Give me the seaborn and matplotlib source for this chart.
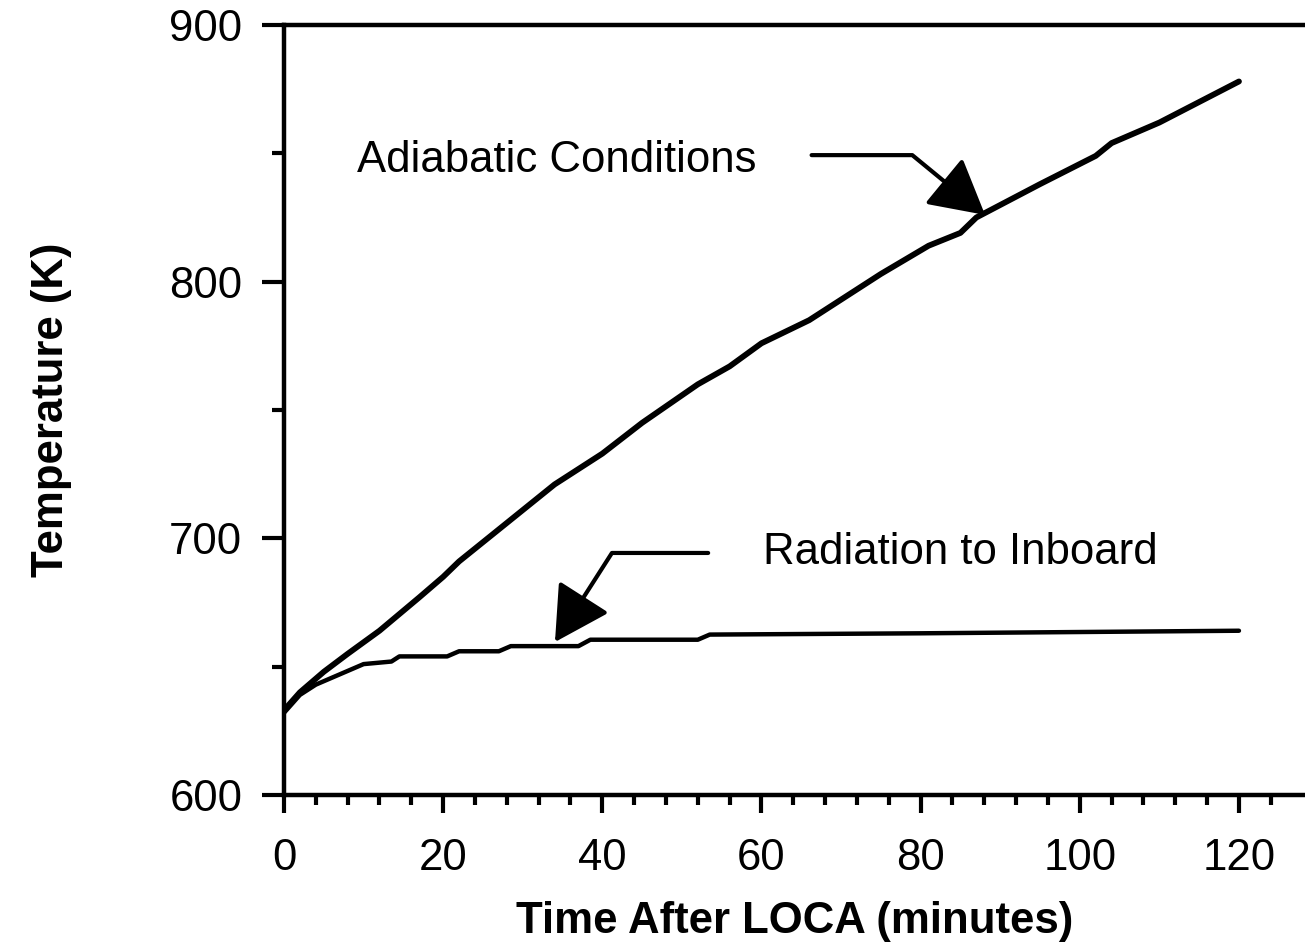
import numpy as np
import pandas as pd
import matplotlib
matplotlib.use("Agg")
import matplotlib.pyplot as plt
from matplotlib.ticker import FixedLocator
import seaborn as sns

# ---- data ----
adiabatic_time = [0, 2, 5, 8, 12, 17, 20, 22, 28, 34, 40, 45, 52, 56, 60, 66,
                  70, 75, 81, 85, 87, 95, 102, 104, 110, 120]
adiabatic_temp = [633, 640, 648, 655, 664, 677, 685, 691, 706, 721, 733, 745,
                  760, 767, 776, 785, 793, 803, 814, 819, 825, 838, 849, 854,
                  862, 878]
radiation_time = [0, 2, 4, 7, 10, 13.5, 14.5, 20.5, 22, 27, 28.5, 37, 38.5,
                  52, 53.5, 80, 120]
radiation_temp = [632, 639, 643, 647, 651, 652, 654, 654, 656, 656, 658, 658,
                  660.5, 660.5, 662.5, 663, 664]

series_names = ["Adiabatic Conditions", "Radiation to Inboard"]
x_major_ticks = [0, 20, 40, 60, 80, 100, 120]
y_major_ticks = [600, 700, 800, 900]
y_minor_ticks = [650, 750, 850]
x_minor_ticks = [t for t in range(0, 125, 4) if t % 20 != 0]

x_label = "Time After LOCA (minutes)"
y_label = "Temperature (K)"

df = pd.concat([
    pd.DataFrame({"time": adiabatic_time, "temp": adiabatic_temp,
                  "series": series_names[0]}),
    pd.DataFrame({"time": radiation_time, "temp": radiation_temp,
                  "series": series_names[1]}),
], ignore_index=True)

sns.set_theme(style="ticks")
plt.rcParams["font.family"] = ["Liberation Sans", "DejaVu Sans"]

W, H = 1305, 946
fig = plt.figure(figsize=(W / 100, H / 100), dpi=100)
left_px, right_px, top_px, bottom_px = 284, 1305, 25, 795
ax = fig.add_axes([left_px / W, (H - bottom_px) / H,
                   (right_px - left_px) / W, (bottom_px - top_px) / H])

sns.lineplot(data=df, x="time", y="temp", hue="series", size="series",
             palette={series_names[0]: "black", series_names[1]: "black"},
             sizes={series_names[0]: 4.2, series_names[1]: 3.2},
             estimator=None, sort=False, legend=False, ax=ax,
             solid_capstyle="round", solid_joinstyle="round")

ax.set_xlim(0, 128.3)
ax.set_ylim(600, 900)

ax.xaxis.set_major_locator(FixedLocator(x_major_ticks))
ax.xaxis.set_minor_locator(FixedLocator(x_minor_ticks))
ax.yaxis.set_major_locator(FixedLocator(y_major_ticks))
ax.yaxis.set_minor_locator(FixedLocator(y_minor_ticks))

ax.tick_params(axis="x", which="major", direction="out", length=13, width=3,
               pad=18, labelsize=31.5, color="black", labelcolor="black")
ax.tick_params(axis="x", which="minor", direction="out", length=7, width=3,
               color="black")
ax.tick_params(axis="y", which="major", direction="out", length=16, width=3,
               pad=14, labelsize=31.5, color="black", labelcolor="black")
ax.tick_params(axis="y", which="minor", direction="out", length=9, width=3,
               color="black")

for side in ["left", "bottom", "top"]:
    ax.spines[side].set_linewidth(3.2)
    ax.spines[side].set_color("black")
ax.spines["right"].set_visible(False)

ax.set_xlabel(x_label, fontsize=31.5, fontweight="bold", labelpad=16,
              color="black")
ax.set_ylabel(y_label, fontsize=31.5, fontweight="bold", labelpad=70,
              color="black")

# annotations
ax.text(9.2, 847.4, series_names[0], fontsize=31.5, ha="left", va="center",
        color="black")
ax.text(60.2, 694.3, series_names[1], fontsize=31.5, ha="left", va="center",
        color="black")

arrow_style = "-|>,head_length=1.0,head_width=0.55"
ax.annotate("", xy=(88.1, 826), xytext=(66.3, 849.3),
            arrowprops=dict(arrowstyle=arrow_style, mutation_scale=34,
                            connectionstyle="angle,angleA=0,angleB=-39.4,rad=0",
                            color="black", lw=3, shrinkA=0, shrinkB=0))
ax.annotate("", xy=(34.05, 659.6), xytext=(53.3, 694.3),
            arrowprops=dict(arrowstyle=arrow_style, mutation_scale=34,
                            connectionstyle="angle,angleA=0,angleB=57.4,rad=0",
                            color="black", lw=3, shrinkA=0, shrinkB=0))

fig.savefig("out.png", dpi=100)
